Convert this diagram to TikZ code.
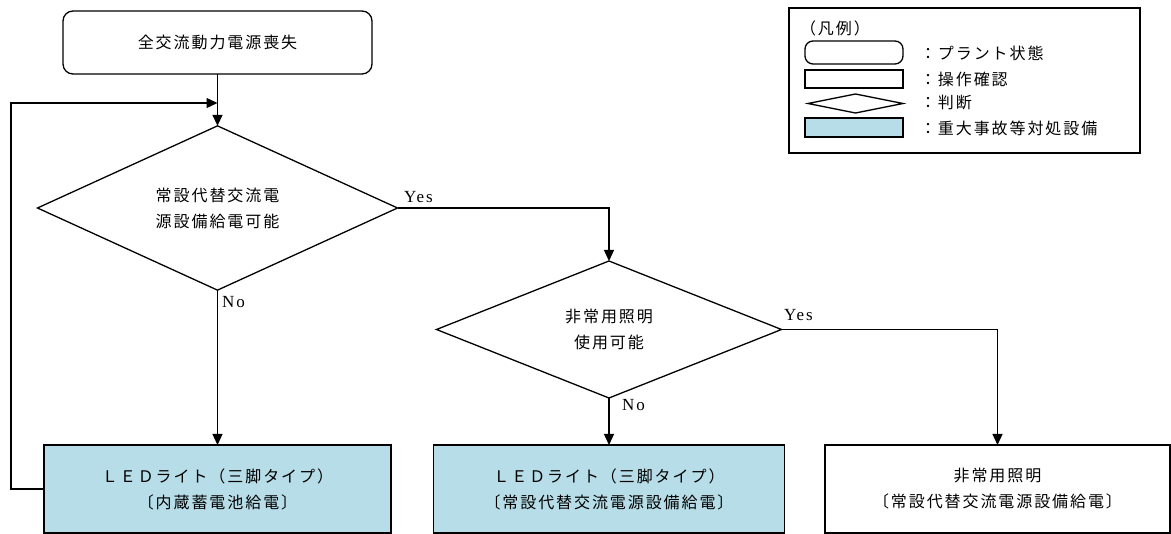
\documentclass[tikz,border=0pt]{standalone}
\usepackage{fontspec}
\setmainfont{Liberation Serif}
\newfontfamily\jp[LetterSpace=12]{Noto Sans CJK JP}
\newfontfamily\lat[LetterSpace=12]{Liberation Serif}
\usetikzlibrary{arrows.meta,shapes.geometric}
\definecolor{safill}{HTML}{B7DEE8}
\begin{document}
\begin{tikzpicture}[x=1pt,y=-1pt,
  every node/.style={inner sep=0pt, outer sep=0pt},
  txt/.style={font=\jp\fontsize{16}{26}\selectfont, align=center},
  plantbox/.style={txt, draw, line width=1.3pt, rounded corners=10pt, minimum width=309pt, minimum height=63pt},
  opbox/.style={txt, draw, line width=1.3pt, minimum height=88pt},
  sabox/.style={opbox, fill=safill},
  judge/.style={txt, draw, diamond, line width=1.3pt},
  lbl/.style={font=\lat\fontsize{17}{18}\selectfont, anchor=west},
  arr/.style={line width=1.3pt, -{Triangle[length=11pt,width=10pt]}},
  legline/.style={draw, line width=1.3pt}
]
\useasboundingbox (0,0) rectangle (1171,534);

% main flow
\node[plantbox] (start) at (217.5,42.5) {全交流動力電源喪失};
\node[judge, minimum width=360pt, minimum height=136pt] (d1) at (217.5,208) {常設代替交流電\\源設備給電可能};
\node[judge, minimum width=345pt, minimum height=137pt] (d2) at (609,329.5) {非常用照明\\使用可能};
\node[sabox, minimum width=347pt] (b1) at (217.5,489) {ＬＥＤライト（三脚タイプ）\\〔内蔵蓄電池給電〕};
\node[sabox, minimum width=351pt] (b2) at (609,489) {ＬＥＤライト（三脚タイプ）\\〔常設代替交流電源設備給電〕};
\node[opbox, minimum width=345pt] (b3) at (997.5,489) {非常用照明\\〔常設代替交流電源設備給電〕};

\coordinate (j) at (217.5,103);
\coordinate (lc) at (11,489);

\draw[arr] (start.south) -- (d1.north);
\draw[arr] (b1.west) -- (lc) |- (j);
\draw[arr] (d1.south) -- (b1.north);
\draw[arr] (d1.east) -| (d2.north);
\draw[arr] (d2.south) -- (b2.north);
\draw[arr] (d2.east) -| (b3.north);

\node[lbl] (y1) at (404,197) {Yes};
\node[lbl] (n1) at (222,302) {No};
\node[lbl] (y2) at (784,315) {Yes};
\node[lbl] (n2) at (622,405) {No};

% legend
\node[legline, minimum width=351pt, minimum height=145pt] (leg) at (964.5,80.5) {};
\node[txt, anchor=west] (legt) at (800,28) {（凡例）};
\node[legline, rounded corners=8pt, minimum width=98pt, minimum height=23pt] (l1) at (854,52.5) {};
\node[legline, minimum width=98pt, minimum height=18pt] (l2) at (854,79) {};
\node[legline, diamond, minimum width=95pt, minimum height=19pt] (l3) at (855.5,103.5) {};
\node[legline, fill=safill, minimum width=98pt, minimum height=19pt] (l4) at (854,127.5) {};
\node[txt, anchor=west] (t1) at (920,53) {：プラント状態};
\node[txt, anchor=west] (t2) at (920,79) {：操作確認};
\node[txt, anchor=west] (t3) at (920,103) {：判断};
\node[txt, anchor=west] (t4) at (920,128) {：重大事故等対処設備};
\end{tikzpicture}
\end{document}
